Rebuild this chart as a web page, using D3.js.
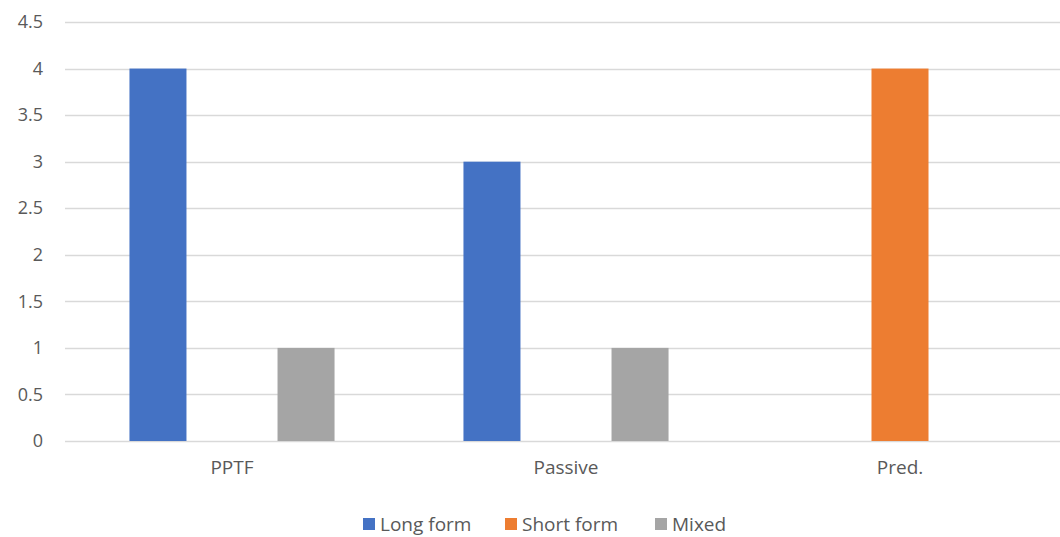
<!DOCTYPE html>
<html>
<head>
<meta charset="utf-8">
<script src="https://cdn.jsdelivr.net/npm/d3@7"></script>
<style>
  html, body { margin: 0; padding: 0; background: #fff; }
  svg { display: block; font-family: "Open Sans", "Liberation Sans", sans-serif; }
</style>
</head>
<body>
<svg id="chart" width="1060" height="537"></svg>
<script>
// Categories, series and values
const categories = ["PPTF", "Passive", "Pred."];
const seriesNames = ["Long form", "Short form", "Mixed"];
const longForm = [4, 3, 0];
const shortForm = [0, 0, 4];
const mixed = [1, 1, 0];
const yTicks = [0, 0.5, 1, 1.5, 2, 2.5, 3, 3.5, 4, 4.5];
const colors = ["#4472C4", "#ED7D31", "#A5A5A5"];

const seriesValues = [longForm, shortForm, mixed];

const svg = d3.select("#chart");
const plot = { left: 65, right: 1067, top: 22, bottom: 441 };
const textColor = "#595959";

const x0 = d3.scaleBand()
  .domain(categories)
  .range([plot.left, plot.right])
  .paddingInner(0.386)
  .paddingOuter(0.193);

const x1 = d3.scaleBand()
  .domain(seriesNames)
  .range([0, x0.bandwidth()])
  .paddingInner(0.23)
  .paddingOuter(0);

const y = d3.scaleLinear()
  .domain([0, 4.5])
  .range([plot.bottom, plot.top]);

// Horizontal gridlines
svg.append("g")
  .selectAll("line")
  .data(yTicks)
  .join("line")
  .attr("x1", plot.left)
  .attr("x2", 1060)
  .attr("y1", d => Math.round(y(d)) + 0.5)
  .attr("y2", d => Math.round(y(d)) + 0.5)
  .attr("stroke", "#d9d9d9")
  .attr("stroke-width", 1.3);

// Y axis labels
const yAxis = d3.axisLeft(y).tickValues(yTicks).tickSize(0).tickPadding(0).tickFormat(d3.format("~g"));
const yg = svg.append("g")
  .attr("transform", `translate(${plot.left - 22},0)`)
  .call(yAxis);
yg.select(".domain").remove();
yg.selectAll("text")
  .attr("fill", textColor)
  .attr("font-size", 18)
  .attr("font-family", "Open Sans, Liberation Sans, sans-serif");

// Bars
const rows = categories.map((c, i) => ({
  category: c,
  values: seriesNames.map((s, j) => ({ series: s, value: seriesValues[j][i], color: colors[j] }))
}));

svg.append("g")
  .selectAll("g")
  .data(rows)
  .join("g")
  .attr("transform", d => `translate(${x0(d.category)},0)`)
  .selectAll("rect")
  .data(d => d.values.filter(v => v.value > 0))
  .join("rect")
  .attr("x", d => x1(d.series))
  .attr("width", x1.bandwidth())
  .attr("y", d => y(d.value))
  .attr("height", d => y(0) - y(d.value))
  .attr("fill", d => d.color);

// X axis labels
const xAxis = d3.axisBottom(x0).tickSize(0).tickPadding(0);
const xg = svg.append("g")
  .attr("transform", `translate(0,${plot.bottom + 19})`)
  .call(xAxis);
xg.select(".domain").remove();
xg.selectAll("text")
  .attr("fill", textColor)
  .attr("font-size", 19)
  .attr("font-family", "Open Sans, Liberation Sans, sans-serif");

// Legend
const legendItems = [
  { name: seriesNames[0], color: colors[0], x: 363 },
  { name: seriesNames[1], color: colors[1], x: 505 },
  { name: seriesNames[2], color: colors[2], x: 655 }
];
const lg = svg.append("g").attr("transform", "translate(0,524)");
const li = lg.selectAll("g").data(legendItems).join("g")
  .attr("transform", d => `translate(${d.x},0)`);
li.append("rect")
  .attr("x", 0).attr("y", -6)
  .attr("width", 12).attr("height", 12)
  .attr("fill", d => d.color);
li.append("text")
  .attr("x", 17)
  .attr("y", 0)
  .attr("dy", "0.35em")
  .attr("fill", textColor)
  .attr("font-size", 19)
  .text(d => d.name);
</script>
</body>
</html>
